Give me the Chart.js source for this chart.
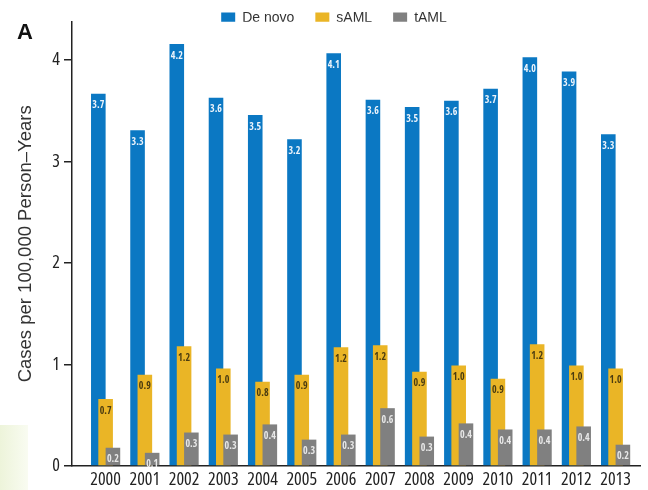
<!DOCTYPE html>
<html>
<head>
<meta charset="utf-8">
<script src="https://cdn.jsdelivr.net/npm/chart.js@4.4.0/dist/chart.umd.min.js"></script>
<style>
html, body { margin: 0; padding: 0; background: #fff; }
#wrap { width: 648px; height: 490px; position: relative; }
</style>
</head>
<body>
<div id="wrap"><canvas id="chart"></canvas></div>
<script>
// data
const years = ['2000', '2001', '2002', '2003', '2004', '2005', '2006',
               '2007', '2008', '2009', '2010', '2011', '2012', '2013'];
const deNovo = [3.67, 3.31, 4.16, 3.63, 3.46, 3.22, 4.07, 3.61, 3.54, 3.60, 3.72, 4.03, 3.89, 3.27];
const sAML   = [0.66, 0.90, 1.18, 0.96, 0.83, 0.90, 1.17, 1.19, 0.93, 0.99, 0.86, 1.20, 0.99, 0.96];
const tAML   = [0.18, 0.13, 0.33, 0.31, 0.41, 0.26, 0.31, 0.57, 0.29, 0.42, 0.36, 0.36, 0.39, 0.21];
const yTicks = [0, 1, 2, 3, 4];

const COND = "'Open Sans', 'DejaVu Sans Condensed', sans-serif";
const REGULAR = "'Liberation Sans', Arial, sans-serif";

// x padding (in category units) left/right of the bars
const PAD_L = 0.357;
const PAD_R = 0.122;
const LEGEND_H = 31.7;

Chart.defaults.font.family = COND;
Chart.defaults.color = '#2b2b2b';

// legend takes less room so the axis can start beside it
const legendFit = {
    id: 'legendFit',
    afterInit(chart) {
        const lg = chart.legend;
        const fit = lg.fit;
        lg.fit = function () { fit.call(this); this.height = LEGEND_H; };
    }
};

// bars drawn in dataset order (later ones on top) + value labels
const barOrder = {
    id: 'barOrder',
    beforeDatasetsDraw(chart) {
        const ctx = chart.ctx;
        chart.data.datasets.forEach((ds, i) => chart.getDatasetMeta(i).controller.draw());
        ctx.save();
        ctx.font = "10px 'Open Sans Condensed', " + COND;
        ctx.textAlign = 'center';
        ctx.textBaseline = 'middle';
        chart.data.datasets.forEach((ds, i) => {
            ctx.fillStyle = ds.labelColor;
            chart.getDatasetMeta(i).data.forEach((bar, j) => {
                ctx.fillText(ds.data[j].toFixed(1), bar.x, bar.y + 12);
            });
        });
        ctx.restore();
        return false;
    }
};

// panel letter and the faint tint in the corner
const decor = {
    id: 'decor',
    beforeDraw(chart) {
        const ctx = chart.ctx;
        const g = ctx.createLinearGradient(0, 0, 30, 0);
        g.addColorStop(0, '#edf4da');
        g.addColorStop(1, '#fafcf3');
        ctx.fillStyle = g;
        ctx.fillRect(0, 425, 28, 65);
    },
    afterDraw(chart) {
        const ctx = chart.ctx;
        ctx.save();
        ctx.font = 'bold 22px ' + REGULAR;
        ctx.fillStyle = '#111';
        ctx.fillText('A', 17, 33);
        ctx.restore();
    }
};

const chart = new Chart(document.getElementById('chart'), {
    type: 'bar',
    data: {
        labels: years,
        datasets: [
            { label: 'De novo', data: deNovo, backgroundColor: '#0b78c3', labelColor: '#eef4fb' },
            { label: 'sAML', data: sAML, backgroundColor: '#eab526', labelColor: '#4a3b10' },
            { label: 'tAML', data: tAML, backgroundColor: '#808080', labelColor: '#e8e8e8' }
        ]
    },
    options: {
        responsive: true,
        maintainAspectRatio: false,
        animation: false,
        categoryPercentage: 0.558,
        barPercentage: 2.0,
        layout: { padding: { left: 28, right: 8, top: -10, bottom: 0 } },
        plugins: {
            tooltip: { enabled: false },
            legend: {
                labels: {
                    boxWidth: 14,
                    boxHeight: 11,
                    padding: 21,
                    color: '#333',
                    font: { family: REGULAR, size: 14 }
                }
            }
        },
        scales: {
            x: {
                offset: true,
                grid: { display: false, drawTicks: false },
                border: { display: true, color: '#222', width: 1.5 },
                ticks: {
                    font: { size: 18, weight: '500 condensed' },
                    color: '#222', padding: 3, maxRotation: 0, autoSkip: false
                },
                afterBuildTicks(s) {
                    s._startValue -= PAD_L;
                    s._valueRange += PAD_L + PAD_R;
                },
                afterFit(s) { s.height = 24; }
            },
            y: {
                min: 0,
                max: 4.38,
                grid: { drawOnChartArea: false, color: '#222', lineWidth: 1.5, tickLength: 8 },
                border: { color: '#222', width: 1.5 },
                ticks: { font: { size: 18, weight: '500 condensed' }, color: '#222', padding: 4 },
                afterBuildTicks(s) { s.ticks = yTicks.map(v => ({ value: v })); },
                afterFit(s) { s.width = 44; },
                title: {
                    display: true,
                    text: 'Cases per 100,000 Person–Years',
                    font: { family: REGULAR, size: 18.5 },
                    color: '#333',
                    padding: { top: -13, bottom: 0 }
                }
            }
        }
    },
    plugins: [legendFit, barOrder, decor]
});
</script>
</body>
</html>
